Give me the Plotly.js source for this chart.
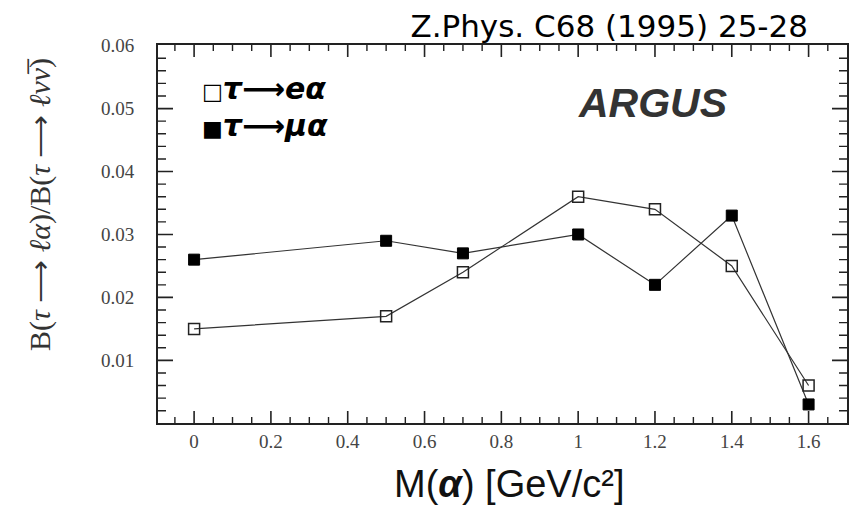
<!DOCTYPE html>
<html>
<head>
<meta charset="utf-8">
<script src="https://cdn.plot.ly/plotly-3.0.1.min.js"></script>
<style>
html,body{margin:0;padding:0;background:#fff;}
#chart{width:856px;height:508px;}
#chart svg path.crisp, #chart svg .crisp, #chart path.xtick, #chart path.ytick, #chart path.xline, #chart path.yline { shape-rendering: geometricPrecision !important; }
</style>
</head>
<body>
<div id="chart"></div>
<script>
// Data
const masses = [0, 0.5, 0.7, 1.0, 1.2, 1.4, 1.6];               // M(alpha) [GeV/c^2]
const ratioE = [0.015, 0.017, 0.024, 0.036, 0.034, 0.025, 0.006];  // tau -> e alpha
const ratioMu = [0.026, 0.029, 0.027, 0.030, 0.022, 0.033, 0.003]; // tau -> mu alpha
const seriesNames = ['τ⟶eα', 'τ⟶μα'];

const traces = [
  {
    x: masses, y: ratioMu, name: seriesNames[1], type: 'scatter', mode: 'lines+markers',
    line: {color: '#333', width: 1.2},
    marker: {symbol: 'square', size: 11, color: '#000', line: {color: '#000', width: 1}},
    showlegend: false, cliponaxis: false
  },
  {
    x: masses, y: ratioE, name: seriesNames[0], type: 'scatter', mode: 'lines+markers',
    line: {color: '#333', width: 1.2},
    marker: {symbol: 'square-open', size: 11, color: '#222', line: {width: 1.5}},
    showlegend: false, cliponaxis: false
  }
];

const layout = {
  width: 856, height: 508,
  margin: {l: 158, r: 9, t: 45, b: 85},
  paper_bgcolor: '#fff', plot_bgcolor: '#fff',
  title: {
    text: 'Z.Phys. C68 (1995) 25-28',
    x: 808 / 856, xanchor: 'right', y: 1 - 26 / 508, yanchor: 'middle',
    font: {family: 'DejaVu Sans', size: 31, color: '#000'}
  },
  xaxis: {
    showline: true, linecolor: '#222', linewidth: 2, mirror: 'ticks', layer: 'above traces',
    ticks: 'inside', tickcolor: '#222', tickwidth: 1.6, ticklen: 12,
    showgrid: false, zeroline: false,
    tickfont: {family: 'Liberation Serif', size: 19, color: '#444'},
    range: [-0.094, 1.70], tickmode: 'linear', tick0: 0, dtick: 0.2,
    minor: {ticks: 'inside', dtick: 0.05, ticklen: 6, tickcolor: '#222', tickwidth: 1.4}
  },
  yaxis: {
    showline: true, linecolor: '#222', linewidth: 2, mirror: 'ticks', layer: 'above traces',
    ticks: 'inside', tickcolor: '#222', tickwidth: 1.6, ticklen: 15,
    showgrid: false, zeroline: false,
    tickfont: {family: 'Liberation Serif', size: 19, color: '#444'},
    range: [0.00005, 0.0601], tickmode: 'linear', tick0: 0, dtick: 0.01,
    tickformat: '.2f', ticklabelstandoff: 18,
    minor: {ticks: 'inside', dtick: 0.002, ticklen: 8, tickcolor: '#222', tickwidth: 1.4}
  },
  annotations: [
    {
      text: 'M(<b><i>α</i></b>) [GeV/c²]',
      xref: 'paper', yref: 'paper', x: 0.509, y: -0.161, xanchor: 'center', yanchor: 'middle',
      showarrow: false, font: {family: 'Liberation Sans', size: 38, color: '#111'}
    },
    {
      text: 'B(<i>τ</i> ⟶ <i>ℓα</i>)/B(<i>τ</i> ⟶ <i>ℓνν̅</i>)',
      xref: 'paper', yref: 'paper', x: -0.1713, y: 0.579, xanchor: 'center', yanchor: 'middle',
      textangle: -90, showarrow: false,
      font: {family: 'Liberation Serif', size: 30, color: '#333'}
    },
    {
      text: '<b><i>ARGUS</i></b>',
      xref: 'paper', yref: 'paper', x: 0.717, y: 0.8466, xanchor: 'center', yanchor: 'middle',
      showarrow: false, font: {family: 'Liberation Sans', size: 41, color: '#333'}
    },
    {
      text: '<span style="font-size:22px">□</span><b><i>' + seriesNames[0] + '</i></b>',
      xref: 'paper', yref: 'paper', x: 0.061, y: 0.8836, xanchor: 'left', yanchor: 'middle',
      showarrow: false, font: {family: 'DejaVu Sans', size: 30, color: '#000'}
    },
    {
      text: '<span style="font-size:22px">■</span><b><i>' + seriesNames[1] + '</i></b>',
      xref: 'paper', yref: 'paper', x: 0.061, y: 0.788, xanchor: 'left', yanchor: 'middle',
      showarrow: false, font: {family: 'DejaVu Sans', size: 30, color: '#000'}
    }
  ]
};

Plotly.newPlot('chart', traces, layout, {staticPlot: true, displayModeBar: false});
</script>
</body>
</html>
